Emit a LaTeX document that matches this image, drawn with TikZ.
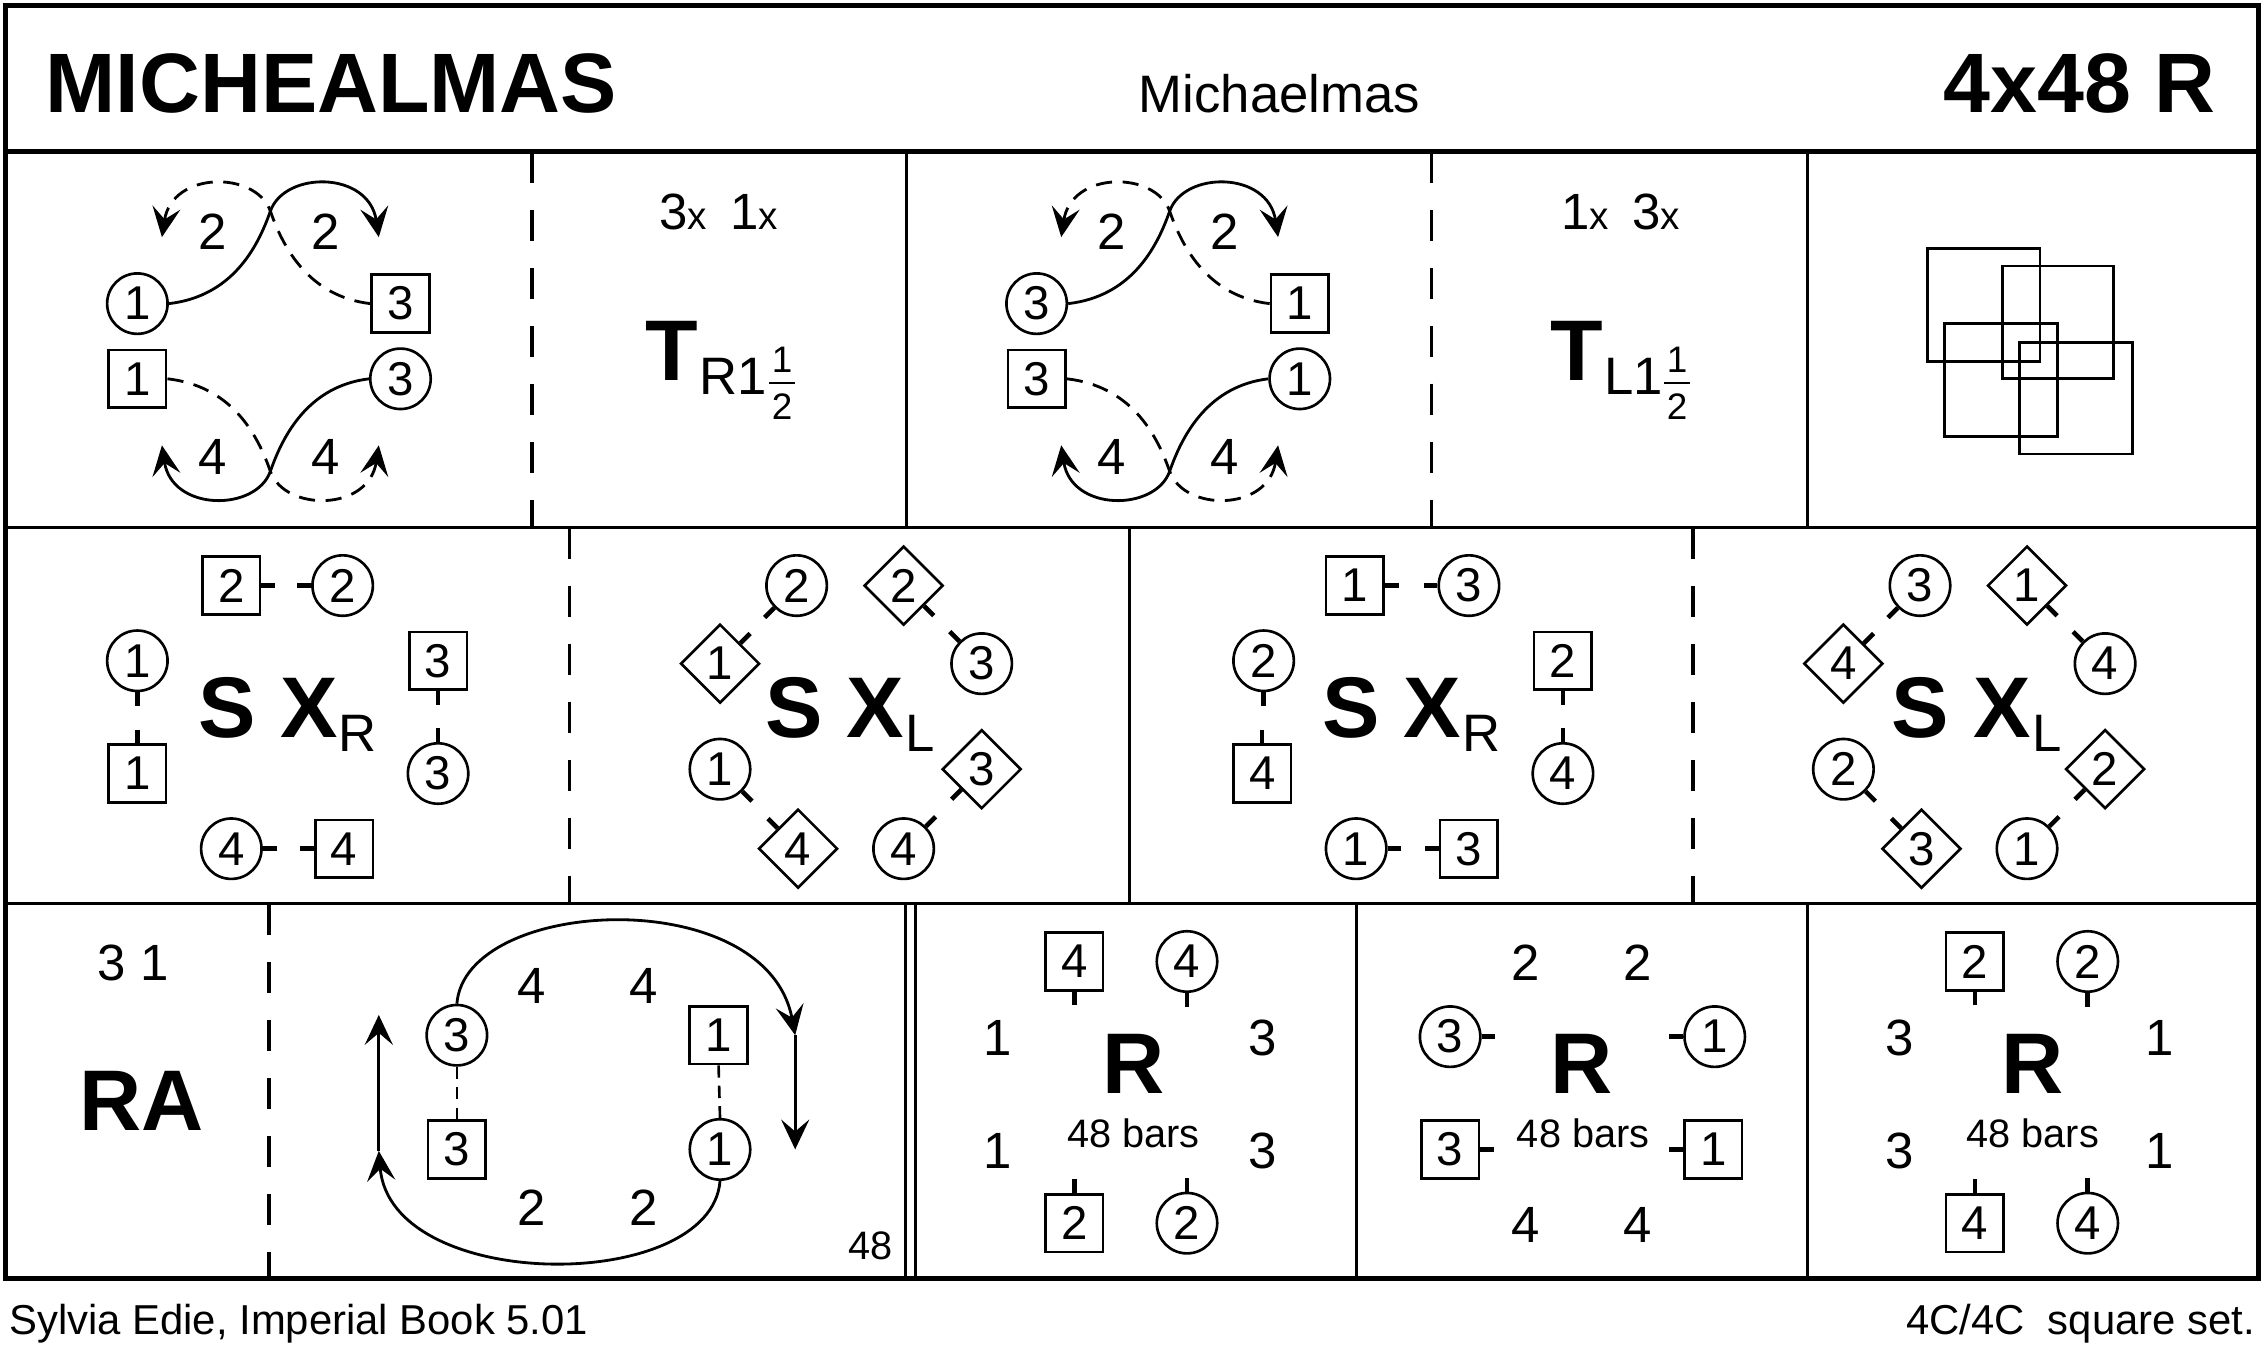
\documentclass[tikz,border=0pt]{standalone}
\usepackage{fontspec}
\setmainfont{Liberation Sans}
\usetikzlibrary{arrows.meta,shapes.geometric}
\tikzset{
  circ/.style={draw,circle,line width=0.75pt,minimum size=17.2pt,inner sep=0pt,font=\fontsize{13.5}{13.5}\selectfont},
  sqr/.style={draw,rectangle,line width=0.75pt,minimum size=16.4pt,inner sep=0pt,font=\fontsize{13.5}{13.5}\selectfont},
  dmd/.style={draw,diamond,aspect=1,line width=0.75pt,minimum size=22.5pt,inner sep=0pt,font=\fontsize{13.5}{13.5}\selectfont},
  numtxt/.style={inner sep=0pt,font=\fontsize{14.5}{14.5}\selectfont},
  bigtxt/.style={inner sep=0pt,font=\fontsize{24.5}{24.5}\selectfont\bfseries},
  subtxt/.style={inner sep=0pt,font=\fontsize{15}{15}\selectfont},
  fractxt/.style={inner sep=0pt,font=\fontsize{10.5}{10.5}\selectfont},
  smalltxt/.style={inner sep=0pt,font=\fontsize{11.3}{11.3}\selectfont},
  foottxt/.style={inner sep=0pt,font=\fontsize{11.9}{11.9}\selectfont},
  hold/.style={line width=1.3pt},
  track/.style={line width=0.8pt,-{Stealth[length=8.5pt,width=8pt,inset=3.4pt]}},
  dtrack/.style={track,dash pattern=on 4.6pt off 3pt},
  dlink/.style={line width=0.75pt,dash pattern=on 3.5pt off 2.3pt},
  outline/.style={line width=1.4pt},
  rule/.style={line width=0.9pt},
  drule/.style={rule,dash pattern=on 9pt off 7.5pt}
}
\begin{document}
\begin{tikzpicture}[x=0.1446mm,y=-0.1446mm]
      \useasboundingbox (0,0) rectangle (1568,943);
      \draw[outline] (4,4) rectangle (1562,884);
      \draw[outline] (4,105) -- (1562,105);
      \draw[rule] (4,365) -- (1562,365);
      \draw[rule] (4,625) -- (1562,625);
      \draw[drule] (368,105) -- (368,365);
      \draw[rule] (627,105) -- (627,365);
      \draw[drule] (990,105) -- (990,365);
      \draw[rule] (1250,105) -- (1250,365);
      \draw[drule] (394,365) -- (394,625);
      \draw[rule] (781,365) -- (781,625);
      \draw[drule] (1171,365) -- (1171,625);
      \draw[drule] (186,625) -- (186,884);
      \draw[rule] (626,625) -- (626,884);
      \draw[rule] (633,625) -- (633,884);
      \draw[rule] (938,625) -- (938,884);
      \draw[rule] (1250,625) -- (1250,884);

      \node[bigtxt,anchor=base west,font=\fontsize{24}{24}\selectfont\bfseries] (title) at (31,78) {MICHEALMAS};
      \node[subtxt,anchor=base] (tune) at (885,78) {Michaelmas};
      \node[bigtxt,anchor=base east,font=\fontsize{24}{24}\selectfont\bfseries] (bars) at (1533,78) {4x48 R};

      \node[circ] (a1) at (95,210) {1};
      \node[sqr] (a3s) at (277,210) {3};
      \node[sqr] (a1s) at (95,262) {1};
      \node[circ] (a3) at (277,262) {3};
      \node[numtxt] (a2l) at (147,160) {2};
      \node[numtxt] (a2r) at (225,160) {2};
      \node[numtxt] (a4l) at (147,316) {4};
      \node[numtxt] (a4r) at (225,316) {4};
      \coordinate (aa) at (262,164);
      \coordinate (ab) at (112,164);
      \coordinate (ac) at (262,308);
      \coordinate (ad) at (112,308);
      \draw[track] (a1.east) .. controls (160,205) and (178,172) .. (187,146) .. controls (197,118) and (255,118) .. (aa);
      \draw[dtrack] (a3s.west) .. controls (214,205) and (196,172) .. (187,146) .. controls (177,118) and (119,118) .. (ab);
      \draw[track] (a3.west) .. controls (214,267) and (196,300) .. (187,326) .. controls (177,354) and (119,354) .. (ad);
      \draw[dtrack] (a1s.east) .. controls (160,267) and (178,300) .. (187,326) .. controls (197,354) and (255,354) .. (ac);

      \node[numtxt,anchor=base] (t1c) at (497,159) {3{\fontsize{11}{11}\selectfont x}\hspace{0.45em}1{\fontsize{11}{11}\selectfont x}};
      \node[bigtxt,anchor=base west] (t1) at (446,263) {T};
      \node[subtxt,anchor=base west] (t1s) at ([yshift=-4.1pt]t1.base east) {R1};
      \node[fractxt] (t1a) at (541,249) {1};
      \node[fractxt] (t1b) at (541,281) {2};
      \draw[line width=0.6pt] (532,265) -- (550,265);

      \node[circ] (b3) at (717,210) {3};
      \node[sqr] (b1s) at (899,210) {1};
      \node[sqr] (b3s) at (717,262) {3};
      \node[circ] (b1) at (899,262) {1};
      \node[numtxt] (b2l) at (769,160) {2};
      \node[numtxt] (b2r) at (847,160) {2};
      \node[numtxt] (b4l) at (769,316) {4};
      \node[numtxt] (b4r) at (847,316) {4};
      \coordinate (ba) at (884,164);
      \coordinate (bb) at (734,164);
      \coordinate (bc) at (884,308);
      \coordinate (bd) at (734,308);
      \draw[track] (b3.east) .. controls (782,205) and (800,172) .. (809,146) .. controls (819,118) and (877,118) .. (ba);
      \draw[dtrack] (b1s.west) .. controls (836,205) and (818,172) .. (809,146) .. controls (799,118) and (741,118) .. (bb);
      \draw[track] (b1.west) .. controls (836,267) and (818,300) .. (809,326) .. controls (799,354) and (741,354) .. (bd);
      \draw[dtrack] (b3s.east) .. controls (782,267) and (800,300) .. (809,326) .. controls (819,354) and (877,354) .. (bc);

      \node[numtxt,anchor=base] (t2c) at (1121,159) {1{\fontsize{11}{11}\selectfont x}\hspace{0.45em}3{\fontsize{11}{11}\selectfont x}};
      \node[bigtxt,anchor=base west] (t2) at (1072,263) {T};
      \node[subtxt,anchor=base west] (t2s) at ([yshift=-4.1pt]t2.base east) {L1};
      \node[fractxt] (t2a) at (1160,249) {1};
      \node[fractxt] (t2b) at (1160,281) {2};
      \draw[line width=0.6pt] (1151,265) -- (1169,265);

      \draw[line width=0.8pt] (1333,172) rectangle (1411,250);
      \draw[line width=0.8pt] (1385,184) rectangle (1462,262);
      \draw[line width=0.8pt] (1345,224) rectangle (1423,302);
      \draw[line width=0.8pt] (1397,237) rectangle (1475,314);

      \node[sqr] (e2s) at (160,405) {2};
      \node[circ] (e2) at (237,405) {2};
      \node[circ] (e1) at (95,457) {1};
      \node[sqr] (e1s) at (95,535) {1};
      \node[sqr] (e3s) at (303,457) {3};
      \node[circ] (e3) at (303,535) {3};
      \node[circ] (e4) at (160,587) {4};
      \node[sqr] (e4s) at (238,587) {4};
      \node[bigtxt,anchor=base west] (esx) at (137,510) {S X};
      \node[subtxt,anchor=base west] (esxr) at ([yshift=-4.1pt]esx.base east) {R};
      \draw[hold] (e2s.east) -- ++(3.9pt,0);
      \draw[hold] (e2.west) -- ++(-3.9pt,0);
      \draw[hold] (e1.south) -- ++(0,-3.9pt);
      \draw[hold] (e1s.north) -- ++(0,3.9pt);
      \draw[hold] (e3s.south) -- ++(0,-3.9pt);
      \draw[hold] (e3.north) -- ++(0,3.9pt);
      \draw[hold] (e4.east) -- ++(3.9pt,0);
      \draw[hold] (e4s.west) -- ++(-3.9pt,0);

      \node[circ] (f2) at (551,405) {2};
      \node[dmd] (f2d) at (625,405) {2};
      \node[circ] (f3) at (679,459) {3};
      \node[dmd] (f3d) at (679,532) {3};
      \node[circ] (f4) at (625,587) {4};
      \node[dmd] (f4d) at (552,587) {4};
      \node[circ] (f1) at (498,532) {1};
      \node[dmd] (f1d) at (498,459) {1};
      \node[bigtxt,anchor=base west] (fsx) at (529,510) {S X};
      \node[subtxt,anchor=base west] (fsxl) at ([yshift=-4.1pt]fsx.base east) {L};
      \draw[hold] (f2.225) -- ++(225:3.9pt);
      \draw[hold] (f2d.-45) -- ++(-45:3.9pt);
      \draw[hold] (f3.135) -- ++(135:3.9pt);
      \draw[hold] (f3d.225) -- ++(225:3.9pt);
      \draw[hold] (f4.45) -- ++(45:3.9pt);
      \draw[hold] (f4d.135) -- ++(135:3.9pt);
      \draw[hold] (f1.-45) -- ++(-45:3.9pt);
      \draw[hold] (f1d.45) -- ++(45:3.9pt);

      \node[sqr] (g1s) at (937,405) {1};
      \node[circ] (g3) at (1016,405) {3};
      \node[circ] (g2) at (874,457) {2};
      \node[sqr] (g4s) at (873,535) {4};
      \node[sqr] (g2s) at (1081,457) {2};
      \node[circ] (g4) at (1081,535) {4};
      \node[circ] (g1) at (938,587) {1};
      \node[sqr] (g3s) at (1016,587) {3};
      \node[bigtxt,anchor=base west] (gsx) at (914,510) {S X};
      \node[subtxt,anchor=base west] (gsxr) at ([yshift=-4.1pt]gsx.base east) {R};
      \draw[hold] (g1s.east) -- ++(3.9pt,0);
      \draw[hold] (g3.west) -- ++(-3.9pt,0);
      \draw[hold] (g2.south) -- ++(0,-3.9pt);
      \draw[hold] (g4s.north) -- ++(0,3.9pt);
      \draw[hold] (g2s.south) -- ++(0,-3.9pt);
      \draw[hold] (g4.north) -- ++(0,3.9pt);
      \draw[hold] (g1.east) -- ++(3.9pt,0);
      \draw[hold] (g3s.west) -- ++(-3.9pt,0);

      \node[circ] (h3) at (1328,405) {3};
      \node[dmd] (h1d) at (1402,405) {1};
      \node[circ] (h4) at (1456,459) {4};
      \node[dmd] (h2d) at (1456,532) {2};
      \node[circ] (h1) at (1402,587) {1};
      \node[dmd] (h3d) at (1329,587) {3};
      \node[circ] (h2) at (1275,532) {2};
      \node[dmd] (h4d) at (1275,459) {4};
      \node[bigtxt,anchor=base west] (hsx) at (1308,510) {S X};
      \node[subtxt,anchor=base west] (hsxl) at ([yshift=-4.1pt]hsx.base east) {L};
      \draw[hold] (h3.225) -- ++(225:3.9pt);
      \draw[hold] (h1d.-45) -- ++(-45:3.9pt);
      \draw[hold] (h4.135) -- ++(135:3.9pt);
      \draw[hold] (h2d.225) -- ++(225:3.9pt);
      \draw[hold] (h1.45) -- ++(45:3.9pt);
      \draw[hold] (h3d.135) -- ++(135:3.9pt);
      \draw[hold] (h2.-45) -- ++(-45:3.9pt);
      \draw[hold] (h4d.45) -- ++(45:3.9pt);

      \node[numtxt,anchor=base] (ra31) at (92,678) {3 1};
      \node[bigtxt,anchor=base] (ra) at (98,782) {RA};

      \node[circ] (k3) at (316,716) {3};
      \node[sqr] (k3s) at (316,795) {3};
      \node[sqr] (k1s) at (497,716) {1};
      \node[circ] (k1) at (498,795) {1};
      \node[numtxt] (k4l) at (368,682) {4};
      \node[numtxt] (k4r) at (445,682) {4};
      \node[numtxt] (k2l) at (368,835) {2};
      \node[numtxt] (k2r) at (445,835) {2};
      \node[smalltxt,anchor=base east] (k48) at (618,871) {48};
      \coordinate (kr1) at (550,716);
      \coordinate (kr2) at (550,795);
      \coordinate (kl1) at (262,796);
      \coordinate (kl2) at (262,702);
      \draw[track] (k3.north) .. controls (322,620) and (530,610) .. (kr1);
      \draw[track] (kr1) -- (kr2);
      \draw[track] (k1.south) .. controls (492,895) and (270,895) .. (kl1);
      \draw[track] (kl1) -- (kl2);
      \draw[dlink] (k3.south) -- (k3s.north);
      \draw[dlink] (k1s.south) -- (k1.north);

      \node[sqr] (m4s) at (743,665) {4};
      \node[circ] (m4) at (821,665) {4};
      \node[numtxt] (m1a) at (690,718) {1};
      \node[numtxt] (m3a) at (873,718) {3};
      \node[bigtxt,anchor=base] (mr) at (784,756) {R};
      \node[smalltxt,anchor=base] (mb) at (784,794) {48 bars};
      \node[numtxt] (m1b) at (690,796) {1};
      \node[numtxt] (m3b) at (873,796) {3};
      \node[sqr] (m2s) at (743,846) {2};
      \node[circ] (m2) at (821,846) {2};
      \draw[hold] (m4s.south) -- ++(0,-3.9pt);
      \draw[hold] (m4.south) -- ++(0,-3.9pt);
      \draw[hold] (m2s.north) -- ++(0,3.9pt);
      \draw[hold] (m2.north) -- ++(0,3.9pt);

      \node[numtxt] (n2a) at (1055,666) {2};
      \node[numtxt] (n2b) at (1133,666) {2};
      \node[circ] (n3) at (1003,717) {3};
      \node[circ] (n1) at (1186,717) {1};
      \node[bigtxt,anchor=base] (nr) at (1094,756) {R};
      \node[smalltxt,anchor=base] (nb) at (1095,794) {48 bars};
      \node[sqr] (n3s) at (1003,795) {3};
      \node[sqr] (n1s) at (1185,795) {1};
      \node[numtxt] (n4a) at (1055,847) {4};
      \node[numtxt] (n4b) at (1133,847) {4};
      \draw[hold] (n3.east) -- ++(3.9pt,0);
      \draw[hold] (n1.west) -- ++(-3.9pt,0);
      \draw[hold] (n3s.east) -- ++(3.9pt,0);
      \draw[hold] (n1s.west) -- ++(-3.9pt,0);

      \node[sqr] (p2s) at (1366,665) {2};
      \node[circ] (p2) at (1444,665) {2};
      \node[numtxt] (p3a) at (1314,718) {3};
      \node[numtxt] (p1a) at (1494,718) {1};
      \node[bigtxt,anchor=base] (pr) at (1406,756) {R};
      \node[smalltxt,anchor=base] (pb) at (1406,794) {48 bars};
      \node[numtxt] (p3b) at (1314,796) {3};
      \node[numtxt] (p1b) at (1494,796) {1};
      \node[sqr] (p4s) at (1366,846) {4};
      \node[circ] (p4) at (1444,846) {4};
      \draw[hold] (p2s.south) -- ++(0,-3.9pt);
      \draw[hold] (p2.south) -- ++(0,-3.9pt);
      \draw[hold] (p4s.north) -- ++(0,3.9pt);
      \draw[hold] (p4.north) -- ++(0,3.9pt);

      \node[foottxt,anchor=base west] (src) at (6,923) {Sylvia Edie, Imperial Book 5.01};
      \node[foottxt,anchor=base east] (set) at (1560,923) {4C/4C~ square set.};
\end{tikzpicture}
\end{document}
